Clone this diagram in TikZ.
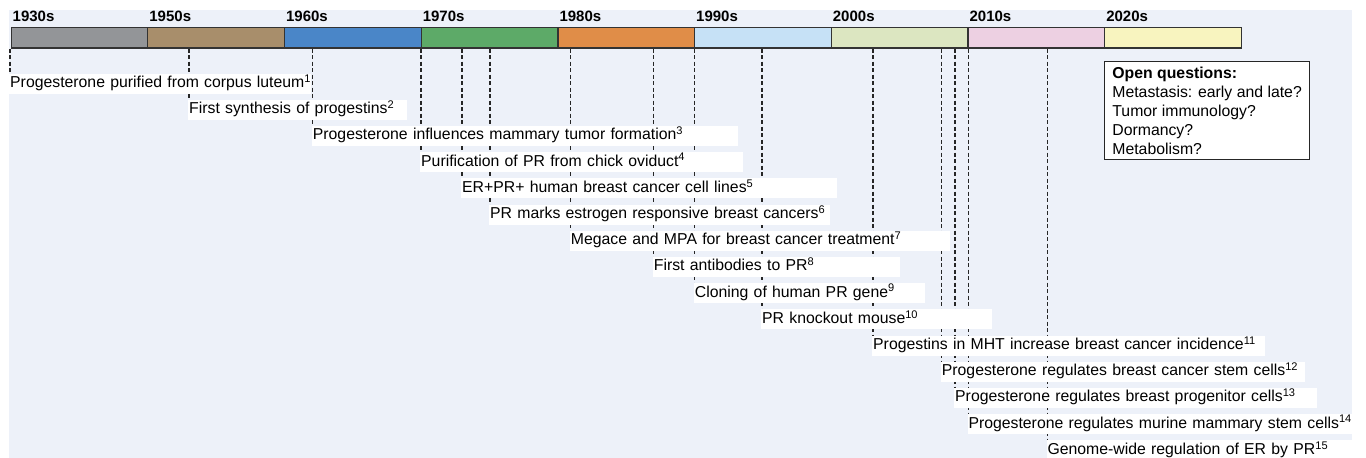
\documentclass[tikz,border=0pt]{standalone}
\usepackage{fontspec}
\setmainfont{Liberation Sans}
\usetikzlibrary{positioning}

\definecolor{bgblue}{HTML}{EDF1F9}
\definecolor{segA}{HTML}{939598}
\definecolor{segB}{HTML}{A88E6B}
\definecolor{segC}{HTML}{4A86C8}
\definecolor{segD}{HTML}{5DAA68}
\definecolor{segE}{HTML}{E08D48}
\definecolor{segF}{HTML}{C6E1F6}
\definecolor{segG}{HTML}{DCE6C1}
\definecolor{segH}{HTML}{EDD0E2}
\definecolor{segI}{HTML}{F8F4BF}

\pgfdeclarelayer{back}
\pgfdeclarelayer{guides}
\pgfsetlayers{back,guides,main}

\tikzset{
  seg/.style={draw=black!80, line width=1.2pt, minimum width=136.7pt,
    minimum height=20.5pt, inner sep=0pt, anchor=north west},
  decade/.style={anchor=south west, inner sep=0pt,
    font=\bfseries\fontsize{15}{15}\selectfont},
  guide/.style={black!85, line width=1.4pt, dash pattern=on 4pt off 2.5pt},
  evt/.style={anchor=west, fill=white, inner xsep=1pt, inner ysep=0pt,
    minimum height=20pt, text height=11.5pt, text depth=3.5pt, align=left,
    font=\fontsize{15.8}{18}\selectfont},
  qbox/.style={draw=black!85, line width=1.2pt, fill=white, anchor=north west,
    align=left, minimum width=205pt, inner xsep=6pt, inner ysep=5pt,
    font=\fontsize{15.8}{19}\selectfont},
}

\begin{document}
\begin{tikzpicture}[x=1pt,y=-1pt]
  \useasboundingbox (0,0) rectangle (1366,458);
  \begin{pgfonlayer}{back}
    \fill[bgblue] (9,10) rectangle (1352,457.5);
  \end{pgfonlayer}

  % decades bar
  \foreach \i/\dec/\col in {1/1930s/segA, 2/1950s/segB, 3/1960s/segC,
      4/1970s/segD, 5/1980s/segE, 6/1990s/segF, 7/2000s/segG,
      8/2010s/segH, 9/2020s/segI}{
    \node[seg, fill=\col] (d\i) at ({10.5+(\i-1)*136.7}, 26.8) {};
    \node[decade] (l\i) at ([xshift=2pt,yshift=4.5pt]d\i.north west) {\dec};
  }

  % events
  \foreach \n/\x/\r/\t in {
      1/9/311/{Progesterone purified from corpus luteum\textsuperscript{1}},
      2/188/407/{First synthesis of progestins\textsuperscript{2}},
      3/311.7/738/{Progesterone influences mammary tumor formation\textsuperscript{3}},
      4/420/743/{Purification of PR from chick oviduct\textsuperscript{4}},
      5/461/837/{ER+PR+ human breast cancer cell lines\textsuperscript{5}},
      6/489/830/{PR marks estrogen responsive breast cancers\textsuperscript{6}},
      7/569.7/950/{Megace and MPA for breast cancer treatment\textsuperscript{7}},
      8/652.7/900/{First antibodies to PR\textsuperscript{8}},
      9/693.7/925/{Cloning of human PR gene\textsuperscript{9}},
      10/761/992/{PR knockout mouse\textsuperscript{10}},
      11/872/1265/{Progestins in MHT increase breast cancer incidence\textsuperscript{11}},
      12/940.7/1305/{Progesterone regulates breast cancer stem cells\textsuperscript{12}},
      13/954/1317/{Progesterone regulates breast progenitor cells\textsuperscript{13}},
      14/967.3/1352/{Progesterone regulates murine mammary stem cells\textsuperscript{14}},
      15/1046.3/1352/{Genome-wide regulation of ER by PR\textsuperscript{15}}}{
    \pgfmathsetmacro\w{\r-\x-2}
    \node[evt, text width=\w pt] (e\n) at (\x, {83.5+(\n-1)*26.2}) {\mbox{\t}};
    \begin{pgfonlayer}{guides}
      \draw[guide] ([xshift=1pt]e\n.west |- d1.south) -- ([xshift=1pt]e\n.west);
    \end{pgfonlayer}
  }

  % open questions
  \node[qbox] (oq) at (1104,61) {\textbf{Open questions:}\\
    Metastasis: early and late?\\
    Tumor immunology?\\
    Dormancy?\\
    Metabolism?};
\end{tikzpicture}
\end{document}
